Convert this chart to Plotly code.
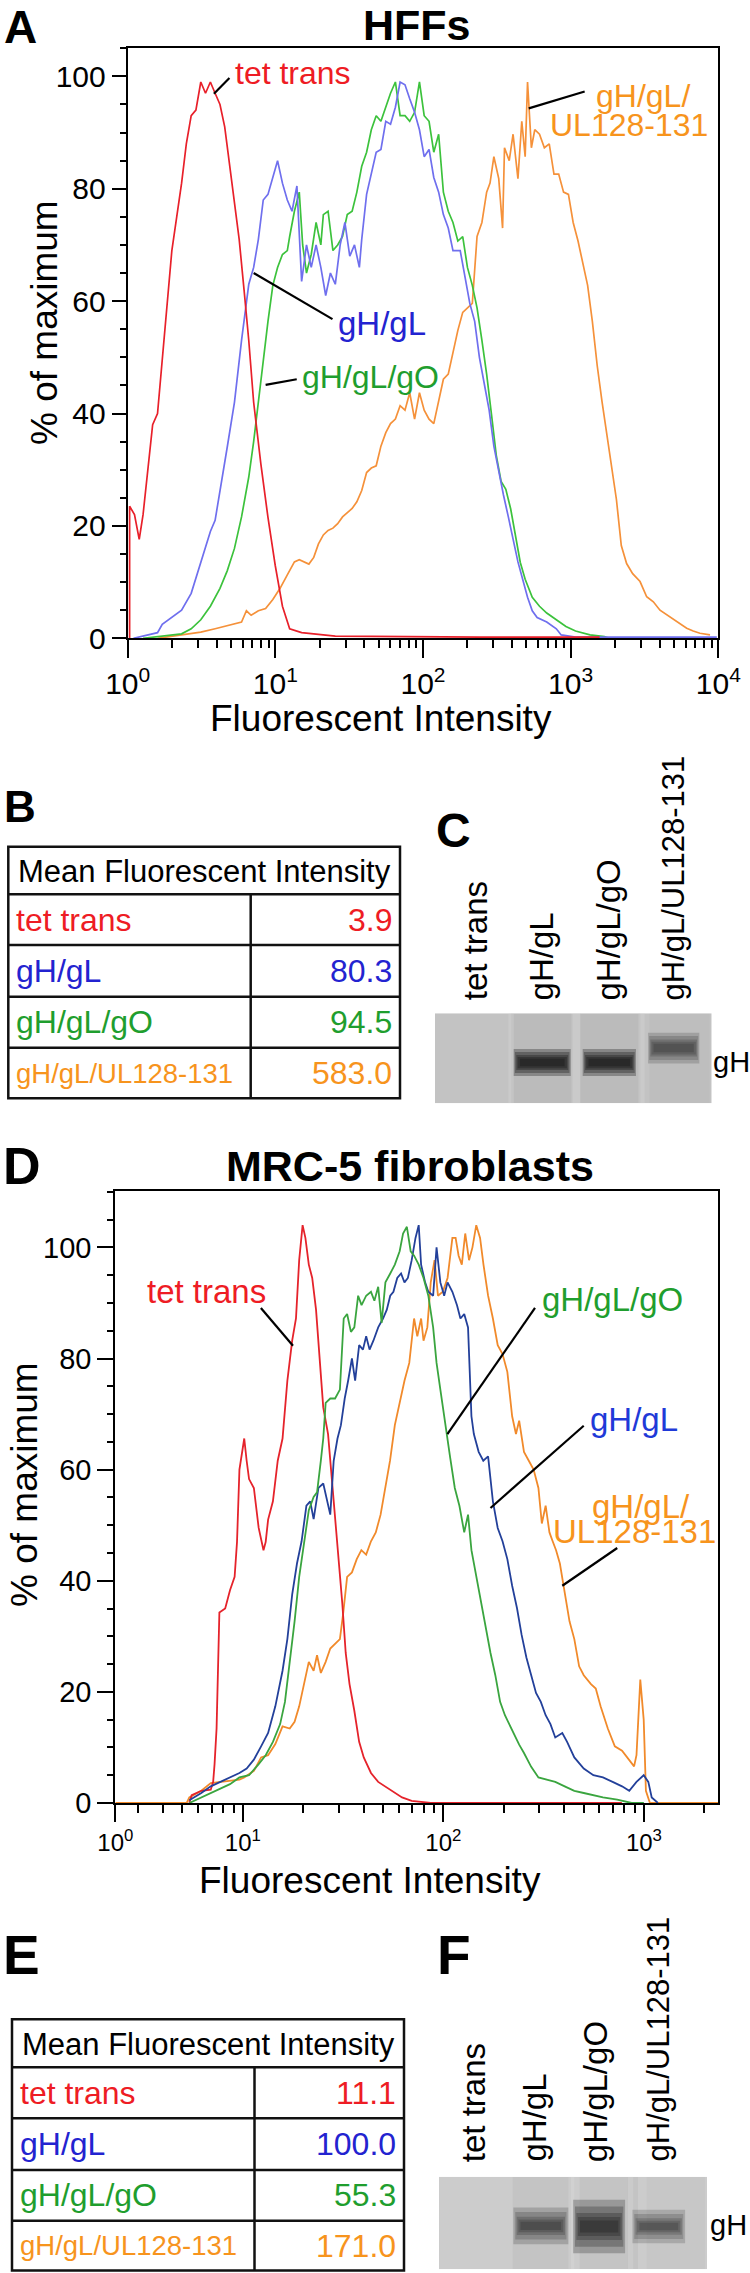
import plotly.graph_objects as go
import numpy as np

W, H = 750, 2273
FONT = "Liberation Sans, Arial, Helvetica, sans-serif"

# ---------------- DATA ----------------
series_names = ["tet trans", "gH/gL", "gH/gL/gO", "gH/gL/UL128-131"]

# Panel A (HFFs) histograms: log10(fluorescent intensity), % of maximum
A_red_logI = [0.013,0.013,0.046,0.078,0.104,0.137,0.169,0.202,0.234,0.267,0.299,0.332,0.365,0.397,0.430,0.462,0.495,0.527,0.560,0.592,0.625,0.657,0.690,0.723,0.755,0.788,0.820,0.853,0.902,0.950,0.999,1.048,1.097,1.178,1.406,2.382,3.196]
A_red_pct = [0,23.5,22,17.6,22,30,38,40,50,60,69,75,81,88,93,94,99,97,99,97,95,91,84,77,71,62,53,42,31,21.5,13,5.7,1.7,1,0.4,0.2,0.2]

A_blue_logI = [0.039,0.202,0.234,0.299,0.365,0.430,0.495,0.560,0.592,0.625,0.674,0.723,0.771,0.820,0.853,0.885,0.918,0.950,0.983,1.015,1.048,1.081,1.113,1.146,1.178,1.211,1.243,1.276,1.308,1.341,1.373,1.406,1.439,1.471,1.504,1.536,1.569,1.585,1.618,1.650,1.683,1.715,1.748,1.780,1.813,1.845,1.878,1.910,1.943,1.976,2.008,2.041,2.073,2.106,2.138,2.171,2.203,2.252,2.285,2.317,2.350,2.382,2.415,2.448,2.480,2.513,2.545,2.578,2.610,2.643,2.675,2.708,2.740,2.773,2.838,2.903,2.936,3.033,3.99]
A_blue_pct = [0,1,2.5,3.7,5,8,13.6,19,21,26,34,42,53,63,66,71,78,79,82,85,81,78,76,80.5,63.5,70,66,70,66,61,65,63,70,74,68,70,66,71,79,83,86.5,87,92,91.5,94.5,99,98.5,96,93.6,90.5,85.7,87,82,79.4,75.4,73,69,69,64,59.6,56.4,50,45.3,40.6,34.2,29.5,25.5,21.6,17.6,13.6,10.5,7.3,4.9,3.7,2.9,1.7,0.6,0.2,0.2]

A_green_logI = [0.104,0.365,0.430,0.495,0.560,0.625,0.674,0.723,0.771,0.820,0.853,0.885,0.918,0.950,0.983,1.015,1.048,1.081,1.097,1.129,1.162,1.185,1.211,1.243,1.276,1.308,1.325,1.357,1.390,1.422,1.455,1.487,1.520,1.552,1.585,1.618,1.650,1.683,1.715,1.748,1.780,1.813,1.845,1.878,1.910,1.943,1.976,2.008,2.041,2.073,2.106,2.138,2.171,2.203,2.236,2.269,2.301,2.334,2.366,2.399,2.431,2.464,2.496,2.529,2.561,2.594,2.627,2.659,2.692,2.740,2.789,2.838,2.903,2.968,3.033,3.131,3.229,3.261]
A_green_pct = [0,0.8,1.7,3.3,5.7,8.9,12,16,21.6,28.7,35,42,50,56.4,62.8,66,68.3,69,71.5,76,79.4,70,65,68.3,74,70,75.4,76,69,70,71.5,75.4,76,79.4,84,86.5,90.5,93,92,94.5,97,99,93,93,92,93.6,99,93,92,86.5,89.7,79.4,76,74,70.7,71.5,66,62.8,58.8,53,47,39.8,32.6,27.9,26.5,23,18,13.5,10.5,7.3,5.7,4.5,3.3,2.1,1.3,0.6,0.3,0]

A_orange_logI = [0.202,0.365,0.495,0.592,0.657,0.723,0.771,0.804,0.836,0.885,0.934,0.983,1.032,1.081,1.129,1.162,1.194,1.227,1.260,1.292,1.325,1.357,1.390,1.422,1.455,1.487,1.520,1.552,1.585,1.618,1.650,1.683,1.715,1.748,1.780,1.813,1.845,1.878,1.910,1.943,1.976,2.008,2.041,2.073,2.106,2.138,2.171,2.203,2.236,2.269,2.301,2.334,2.366,2.399,2.431,2.454,2.480,2.513,2.539,2.552,2.584,2.610,2.643,2.669,2.692,2.708,2.734,2.757,2.789,2.822,2.855,2.887,2.919,2.952,2.985,3.017,3.050,3.082,3.115,3.147,3.180,3.212,3.245,3.278,3.310,3.343,3.379,3.420,3.470,3.515,3.560,3.605,3.650,3.695,3.740,3.786,3.830,3.876,3.944]
A_orange_pct = [0,0.6,1.1,1.7,2.1,2.5,2.9,4.9,4.1,4.9,5.3,6.9,8.9,11.3,13.6,14,13.6,13.2,14.4,16.8,18.4,19.2,19.6,20.4,21.6,22.3,23.1,24.3,26.3,29.5,30.3,30.7,34.2,36.6,38.2,39,41.4,40.6,43.7,39,43.7,40.6,39,38.2,42.2,46.1,47,50.9,54.8,58,58.8,59.6,71.5,74,79.4,81,85.7,81.8,73,87.3,85,89.7,81.8,92,85.7,99,87.3,90.5,89.7,87.3,88,82.6,82.6,79.4,79,74,70.7,66.7,62.8,56.4,48.5,42.2,36.6,30.3,24.7,16.5,13.3,11.5,10.1,7.4,6.5,5.0,4.2,3.3,2.5,1.8,1.3,0.9,0.6]

# Panel D (MRC-5 fibroblasts) histograms
D_red_logI = [0.733,0.745,0.793,0.840,0.852,0.859,0.869,0.883,0.912,0.936,0.959,0.971,0.983,0.995,1.007,1.019,1.031,1.055,1.079,1.103,1.114,1.126,1.150,1.174,1.198,1.222,1.246,1.265,1.281,1.298,1.312,1.329,1.346,1.365,1.384,1.401,1.425,1.448,1.472,1.496,1.513,1.532,1.556,1.580,1.603,1.639,1.675,1.711,1.746,1.794,1.842,1.937,2.89]
D_red_pct = [0,1.4,2.2,2.4,3.8,7,13.4,34.3,35,38.3,40.7,47,60,63,65.6,61.6,58.3,56.7,49.5,45.5,47,51,54.3,61.6,65.6,76,83.2,87.2,97.7,104,101.7,96.9,94.5,88.8,80,71.2,66.4,56.7,45.5,35.9,27,21.4,16.6,11,8.2,5.4,3.8,3,2.2,1,0.4,0,0]

D_blue_logI = [0.733,0.793,0.840,0.888,0.936,0.983,1.019,1.055,1.091,1.126,1.162,1.198,1.222,1.246,1.270,1.293,1.317,1.336,1.353,1.377,1.401,1.417,1.436,1.453,1.472,1.489,1.508,1.525,1.544,1.560,1.580,1.599,1.615,1.632,1.651,1.675,1.699,1.718,1.735,1.751,1.770,1.789,1.806,1.823,1.842,1.861,1.877,1.889,1.909,1.925,1.949,1.966,1.985,2.004,2.021,2.045,2.068,2.085,2.104,2.123,2.140,2.152,2.176,2.199,2.223,2.247,2.271,2.295,2.319,2.343,2.367,2.390,2.414,2.438,2.462,2.486,2.510,2.534,2.558,2.593,2.617,2.653,2.700,2.748,2.796,2.844,2.891,2.927,2.963,2.999,3.022,3.039,3.070]
D_blue_pct = [0.5,1.8,3,3.8,4.6,5.4,6.2,7.8,10.2,12.6,17.4,23.8,29.5,37.5,43.1,47.1,53.5,54.3,51.1,56.7,57.5,55.1,51.9,61.6,65.6,68,72.8,76,80,76,82.4,81.6,84,81.6,83.2,85.6,87.2,88.8,91.3,92,94.5,95.3,93.7,94.5,97.7,101.7,104,96.9,93.7,92,91.3,100,93.7,91.3,93.7,92,89.6,87.2,88,85.6,69.6,66.4,63.2,61.6,62.4,54.3,49.5,47.1,43.9,39.1,35.1,30.3,26.2,23,19.8,18.2,15.8,14.2,11.8,12.6,11,8.2,6.2,5,4.6,3.8,3,2.2,3.8,5,3.8,1,0]

D_green_logI = [0.733,0.793,0.840,0.888,0.936,0.983,1.031,1.079,1.114,1.150,1.186,1.210,1.234,1.258,1.281,1.305,1.329,1.353,1.370,1.389,1.401,1.413,1.436,1.460,1.484,1.503,1.520,1.539,1.556,1.575,1.592,1.615,1.639,1.656,1.675,1.692,1.711,1.735,1.758,1.782,1.799,1.818,1.837,1.854,1.877,1.901,1.925,1.949,1.966,1.985,2.009,2.033,2.057,2.080,2.104,2.123,2.140,2.164,2.188,2.211,2.235,2.259,2.283,2.307,2.331,2.355,2.378,2.402,2.438,2.474,2.510,2.558,2.605,2.653,2.700,2.748,2.796,2.867,2.939,3.0]
D_green_pct = [0,1,1.8,2.6,3.4,4.6,5,7,8.6,11,14.2,18.2,25.4,32.7,40.7,47.1,52.7,55.1,55.9,61.6,65.6,72,72.8,72.8,74.4,87.2,88,84.8,85.6,91.3,89.6,91.3,92,90.4,92.9,86.4,93.7,95.3,96.9,99.3,102.5,103.7,99.3,98.5,96.9,94.5,91.3,85.6,79.2,74.4,68,62.4,56.7,53.5,48.7,51.9,45.5,40.7,35.9,31.1,27,23,18.2,15.8,14,12,10.5,9,6.5,4.6,4.2,3.8,3,2.2,1.8,1.4,1,0.6,0,0]

D_orange_logI = [0.364,0.720,0.733,0.793,0.840,0.888,0.936,0.983,1.007,1.055,1.091,1.126,1.162,1.198,1.234,1.258,1.281,1.305,1.329,1.353,1.370,1.389,1.413,1.436,1.460,1.484,1.501,1.520,1.544,1.568,1.591,1.615,1.639,1.663,1.687,1.711,1.734,1.758,1.782,1.806,1.830,1.854,1.870,1.889,1.901,1.920,1.937,1.956,1.973,1.997,2.021,2.045,2.061,2.076,2.092,2.109,2.128,2.145,2.164,2.183,2.200,2.223,2.247,2.271,2.295,2.319,2.343,2.362,2.378,2.402,2.426,2.450,2.474,2.491,2.510,2.529,2.545,2.562,2.581,2.605,2.629,2.653,2.677,2.700,2.736,2.760,2.784,2.820,2.855,2.891,2.927,2.951,2.963,2.982,2.999,3.010,3.030,3.371]
D_orange_pct = [0,0,1,2.2,3.6,3.8,3.9,4.2,4.6,5.8,8.2,8.6,10.6,13.8,13.4,14.6,17.4,21.4,25.4,23.8,26.6,23.4,25.4,27.8,28.7,29.5,34.3,40.7,41.5,43.9,45.5,44.7,47.1,48.7,51.9,56.7,61.6,68,72,76,79.2,87.2,84,87.2,83.2,85.6,93.7,97.7,91.3,92,94.5,101.7,101.7,98.5,96.9,102.5,97.7,100,104,101.7,96.9,91.3,87.2,82.4,80.8,77.6,69.6,66.4,68.8,63.2,61.6,60,56.7,50.3,53.5,48.7,47.1,45.5,43.1,37.5,32.7,29.5,24.6,23,21.4,20.6,17.4,13.4,10.2,9.4,7.8,6.6,8.6,22.2,15,2.2,0,0]

# Tables: mean fluorescent intensity
mfi_hff = [3.9, 80.3, 94.5, 583.0]
mfi_mrc5 = [11.1, 100.0, 55.3, 171.0]

# Western blot band strength (relative darkness, 0 = no band)
blotC_intensity = [0.0, 0.97, 0.97, 0.55]
blotF_intensity = [0.0, 0.62, 0.80, 0.55]

# Axis tick labels
A_xticks = [1, 10, 100, 1000, 10000]
A_xticktext = ["10<sup>0</sup>", "10<sup>1</sup>", "10<sup>2</sup>", "10<sup>3</sup>", "10<sup>4</sup>"]
D_xticktext = ["10<sup>0</sup>", "10<sup>1</sup>", "10<sup>2</sup>", "10<sup>3</sup>"]
y_ticks = [0, 20, 40, 60, 80, 100]

# ---------------- STYLE / LAYOUT ----------------
txt_colors = ["#ee1c24", "#2323d0", "#1f9e2e", "#f7941d"]
A_line_colors = ["#e8202a", "#6f6fee", "#3cc23c", "#f5913a"]
D_line_colors = ["#e5232b", "#23409a", "#3aa53f", "#f18a2b"]

def PX(x):
    return x / W

def PY(y):
    return 1 - y / H

fig = go.Figure()

A_series = [(A_orange_logI, A_orange_pct, 3), (A_green_logI, A_green_pct, 2),
            (A_blue_logI, A_blue_pct, 1), (A_red_logI, A_red_pct, 0)]
for lx, yv, ci in A_series:
    fig.add_trace(go.Scatter(x=10 ** np.array(lx), y=yv, mode="lines", xaxis="x", yaxis="y",
                             line=dict(color=A_line_colors[ci], width=1.7), hoverinfo="skip"))

D_series = [(D_orange_logI, D_orange_pct, 3), (D_red_logI, D_red_pct, 0),
            (D_blue_logI, D_blue_pct, 1), (D_green_logI, D_green_pct, 2)]
for lx, yv, ci in D_series:
    fig.add_trace(go.Scatter(x=10 ** np.array(lx), y=yv, mode="lines", xaxis="x2", yaxis="y2",
                             line=dict(color=D_line_colors[ci], width=1.8), hoverinfo="skip"))

# leader lines (log10 intensity, %)
A_leaders = [[(0.584, 96.9), (0.689, 99.7)], [(0.853, 65.0), (1.387, 56.8)],
             [(0.934, 45.1), (1.145, 46.1)], [(2.716, 94.3), (3.095, 97.3)]]
D_leaders = [[(1.090, 89.1), (1.250, 82.3)], [(2.457, 89.1), (2.020, 66.4)],
             [(2.700, 67.9), (2.235, 53.1)], [(2.867, 45.9), (2.593, 39.1)]]
for ax, leaders in (("", A_leaders), ("2", D_leaders)):
    for seg in leaders:
        fig.add_trace(go.Scatter(x=[10 ** p[0] for p in seg], y=[p[1] for p in seg], mode="lines",
                                 xaxis="x" + ax, yaxis="y" + ax,
                                 line=dict(color="black", width=2.2), hoverinfo="skip"))

minor_x = [m * 10 ** d for d in range(0, 4) for m in range(2, 10)]
minor_y = list(range(5, 111, 5))

def xaxis_common(domain, rng, tickvals, ticktext, fsize, tlen):
    return dict(domain=domain, type="log", range=rng, showline=True, linecolor="black", linewidth=2,
                mirror=True, ticks="outside", ticklen=tlen, tickwidth=2, tickcolor="black",
                tickvals=tickvals, ticktext=ticktext, tickfont=dict(family=FONT, size=fsize, color="black"),
                showgrid=False, zeroline=False, automargin=False,
                minor=dict(tickvals=minor_x, ticks="outside", ticklen=8, tickwidth=2, tickcolor="black", showgrid=False))

def yaxis_common(domain, rng, fsize, tlen):
    return dict(domain=domain, range=rng, showline=True, linecolor="black", linewidth=2, mirror=True,
                ticks="outside", ticklen=tlen, tickwidth=2, tickcolor="black", tickvals=y_ticks,
                tickfont=dict(family=FONT, size=fsize, color="black"), showgrid=False, zeroline=False,
                automargin=False,
                minor=dict(tickvals=minor_y, ticks="outside", ticklen=6, tickwidth=2, tickcolor="black", showgrid=False))

layout = dict(width=W, height=H, margin=dict(l=0, r=0, t=0, b=0, pad=0, autoexpand=False),
              paper_bgcolor="white", plot_bgcolor="white", showlegend=False)
layout["xaxis"] = xaxis_common([PX(127.7), PX(718.3)], [0, 4], A_xticks, A_xticktext, 30, 18)
layout["yaxis"] = yaxis_common([PY(638.3), PY(47.7)], [0, 105.1], 30, 14)
layout["xaxis"]["anchor"] = "y"
layout["yaxis"]["anchor"] = "x"
D_left = 0.364
layout["xaxis2"] = xaxis_common([PX(115.3), PX(718.3)], [D_left, 3.371],
                                [10 ** D_left, 10, 100, 1000], D_xticktext, 24, 17)
layout["yaxis2"] = yaxis_common([PY(1803), PY(1190.7)], [0, 110.2], 29, 16)
layout["xaxis2"]["anchor"] = "y2"
layout["yaxis2"]["anchor"] = "x2"
for k, (dx, dy) in {"3": ((435, 711.7), (1013.3, 1103.3)), "4": ((439, 707), (2176.7, 2269.3))}.items():
    layout["xaxis" + k] = dict(domain=[PX(dx[0]), PX(dx[1])], range=[0, 4], visible=False, anchor="y" + k)
    layout["yaxis" + k] = dict(domain=[PY(dy[1]), PY(dy[0])], range=[0, 1], visible=False, anchor="x" + k)
fig.update_layout(**layout)

annotations = []
shapes = []

def ann(text, x, y, size, color="black", xanchor="center", yanchor="middle", bold=False, angle=0):
    if bold:
        text = "<b>" + text + "</b>"
    annotations.append(dict(text=text, x=PX(x), y=PY(y), xref="paper", yref="paper", xanchor=xanchor,
                            yanchor=yanchor, showarrow=False, textangle=angle, borderpad=0,
                            font=dict(family=FONT, size=size, color=color)))

# panel letters and titles
ann("A", 3, 0.5, 46, xanchor="left", yanchor="top", bold=True)
ann("HFFs", 417, 25, 43, bold=True)
ann("B", 3, 806, 44, xanchor="left", bold=True)
ann("C", 435, 830, 48, xanchor="left", bold=True)
ann("D", 2, 1166, 52, xanchor="left", bold=True)
ann("MRC-5 fibroblasts", 410, 1166, 43, bold=True)
ann("E", 2, 1955, 55, xanchor="left", bold=True)
ann("F", 436, 1955, 55, xanchor="left", bold=True)

# axis titles
ann("% of maximum", 44, 323, 37, angle=-90)
ann("Fluorescent Intensity", 381, 718, 37)
ann("% of maximum", 24, 1485, 37, angle=-90)
ann("Fluorescent Intensity", 370, 1880, 37)

# curve labels panel A
ann("tet trans", 234, 73.5, 32, txt_colors[0], xanchor="left")
ann("gH/gL", 337, 323, 33, txt_colors[1], xanchor="left")
ann("gH/gL/gO", 300.5, 377, 32, txt_colors[2], xanchor="left")
ann("gH/gL/", 642.5, 96, 32, txt_colors[3])
ann("UL128-131", 629, 125, 32, txt_colors[3])
# curve labels panel D
ann("tet trans", 146, 1291, 33, txt_colors[0], xanchor="left")
ann("gH/gL/gO", 540.7, 1299, 33, txt_colors[2], xanchor="left")
ann("gH/gL", 588.5, 1419, 33, "#1f3ad8", xanchor="left")
ann("gH/gL/", 641, 1506, 33, txt_colors[3])
ann("UL128-131", 634, 1531, 33, txt_colors[3])

# tables
def draw_table(x0, x1, xs, ytop, yhead, row_bottoms, values):
    lw = 2.5
    shapes.append(dict(type="rect", xref="paper", yref="paper", x0=PX(x0), x1=PX(x1), y0=PY(ytop),
                       y1=PY(row_bottoms[-1]), line=dict(color="#111", width=lw)))
    for yy in [yhead] + row_bottoms[:-1]:
        shapes.append(dict(type="line", xref="paper", yref="paper", x0=PX(x0), x1=PX(x1), y0=PY(yy),
                           y1=PY(yy), line=dict(color="#111", width=lw)))
    shapes.append(dict(type="line", xref="paper", yref="paper", x0=PX(xs), x1=PX(xs), y0=PY(yhead),
                       y1=PY(row_bottoms[-1]), line=dict(color="#111", width=lw)))
    ann("Mean Fluorescent Intensity", x0 + 9, (ytop + yhead) / 2 + 1, 31, xanchor="left")
    tops = [yhead] + row_bottoms[:-1]
    for i, name in enumerate(series_names):
        yc = (tops[i] + row_bottoms[i]) / 2
        size = 27.5 if len(name) > 10 else 32
        ann(name, x0 + 7, yc, size, txt_colors[i], xanchor="left")
        ann("%.1f" % values[i], x1 - 7, yc, 32, txt_colors[i], xanchor="right")

draw_table(8.3, 400, 250.7, 846.7, 894.3, [945, 996.7, 1047.7, 1098.3], mfi_hff)
draw_table(12, 404, 254.5, 2019.3, 2067.3, [2118.3, 2170, 2220.7, 2270.5], mfi_mrc5)

# blots
def draw_blot(ax, bg, lane_bg, gaps, band_x, band_y, band_w, band_h, intens, sx, sy):
    xr, yr = "x" + ax, "y" + ax
    shapes.append(dict(type="rect", xref=xr, yref=yr, x0=0, x1=4, y0=0, y1=1, fillcolor=bg,
                       line=dict(width=0), layer="above"))
    for i, c in enumerate(lane_bg):
        shapes.append(dict(type="rect", xref=xr, yref=yr, x0=i + 0.1, x1=i + 0.97, y0=0, y1=1,
                           fillcolor=c, line=dict(width=0), layer="above"))
    for g0, g1 in gaps:
        shapes.append(dict(type="rect", xref=xr, yref=yr, x0=g0, x1=g1, y0=0, y1=1,
                           fillcolor="rgba(225,225,225,0.25)", line=dict(width=0), layer="above"))
    for i, it in enumerate(intens):
        if it <= 0:
            continue
        for fx, fy in zip(sx, sy):
            hw = band_w[i] * fx / 2
            hh = band_h[i] * fy / 2
            shapes.append(dict(type="rect", xref=xr, yref=yr, x0=band_x[i] - hw, x1=band_x[i] + hw,
                               y0=band_y[i] - hh, y1=band_y[i] + hh,
                               fillcolor="rgba(12,12,12,%.3f)" % (0.30 * it), line=dict(width=0),
                               layer="above"))

draw_blot("3", "#c3c3c3", ["rgba(0,0,0,0)", "rgba(60,60,60,0.06)", "rgba(60,60,60,0.06)", "rgba(60,60,60,0.03)"],
          [(1.06, 1.14), (1.99, 2.10), (2.94, 3.03)],
          [0.5, 1.55, 2.52, 3.45], [0.45, 0.453, 0.453, 0.614], [0.7, 0.75, 0.70, 0.675],
          [0.17, 0.167, 0.167, 0.19], blotC_intensity,
          [1.10, 1.05, 1.0, 0.95, 0.86], [1.8, 1.4, 1.0, 0.75, 0.5])
draw_blot("4", "#cccccc", ["rgba(0,0,0,0)", "rgba(60,60,60,0.05)", "rgba(60,60,60,0.05)", "rgba(60,60,60,0.03)"],
          [(1.93, 2.02), (2.82, 2.90)],
          [0.5, 1.52, 2.39, 3.28], [0.46, 0.469, 0.462, 0.462], [0.7, 0.72, 0.68, 0.69],
          [0.2, 0.198, 0.29, 0.18], blotF_intensity,
          [1.14, 1.06, 1.0, 0.93, 0.84], [2.0, 1.5, 1.0, 0.7, 0.45])

# lane labels (rotated)
for xs_, ybot in (((475, 541.7, 608.3, 673.3), 1001.7), ((473.7, 533.5, 595.7, 658), 2163)):
    for i, name in enumerate(series_names):
        ann(name, xs_[i], ybot, 31 if len(name) > 10 else 33, angle=-90, yanchor="bottom")
ann("gH", 712, 1062, 29, xanchor="left")
ann("gH", 709, 2225, 29, xanchor="left")

fig.update_layout(annotations=annotations, shapes=shapes)
fig.write_html("out.html", config={"displayModeBar": False},
               post_script="document.body.style.margin='0px';document.body.style.padding='0px';")
